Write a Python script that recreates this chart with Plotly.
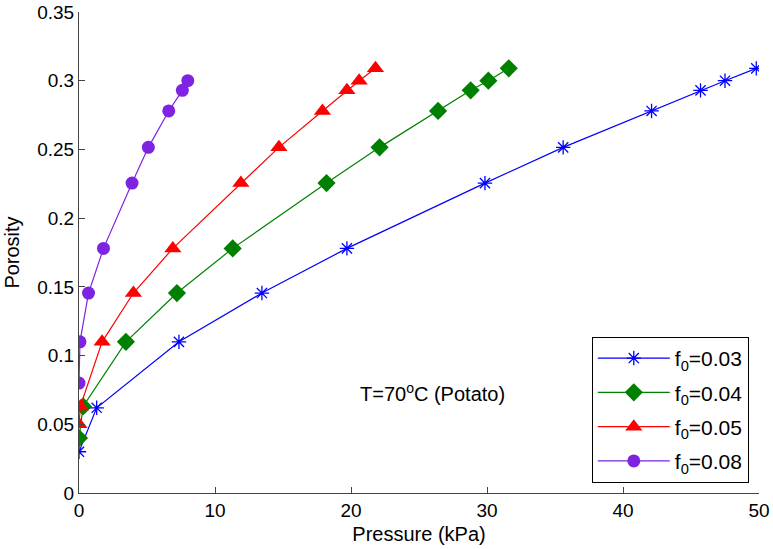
import plotly.graph_objects as go

# Porosity levels (y) and pressure values (x)
por_003 = [0.030, 0.062, 0.110, 0.1455, 0.178, 0.2255, 0.2515, 0.278, 0.293, 0.300, 0.309]
p_003 = [0.0, 1.3, 7.35, 13.45, 19.7, 29.85, 35.6, 42.1, 45.7, 47.5, 49.8]

por_004 = [0.040, 0.063, 0.110, 0.1455, 0.178, 0.2255, 0.2515, 0.278, 0.293, 0.300, 0.309]
p_004 = [0.0, 0.3, 3.45, 7.2, 11.3, 18.2, 22.1, 26.4, 28.8, 30.1, 31.6]

por_005 = [0.050, 0.063, 0.110, 0.1455, 0.178, 0.2255, 0.2515, 0.278, 0.293, 0.300, 0.309]
p_005 = [0.0, 0.1, 1.7, 4.0, 6.9, 11.9, 14.7, 17.9, 19.7, 20.6, 21.8]

por_008 = [0.080, 0.110, 0.1455, 0.178, 0.2255, 0.2515, 0.278, 0.293, 0.300]
p_008 = [0.0, 0.07, 0.7, 1.8, 3.9, 5.1, 6.6, 7.6, 8.0]

FONT = "Liberation Sans, Arial, sans-serif"

series = [
    ("f<sub>0</sub>=0.03", p_003, por_003, "rgb(0,0,255)", "asterisk-open", 12),
    ("f<sub>0</sub>=0.04", p_004, por_004, "rgb(0,128,0)", "diamond", 14),
    ("f<sub>0</sub>=0.05", p_005, por_005, "rgb(255,0,0)", "triangle-up", 15),
    ("f<sub>0</sub>=0.08", p_008, por_008, "rgb(125,35,225)", "circle", 13),
]

fig = go.Figure()
for i, (name, xs, ys, color, symbol, size) in enumerate(series):
    fig.add_trace(go.Scatter(
        x=xs, y=ys, mode="lines+markers", name=name, legendgroup=f"g{i}",
        line=dict(color=color, width=1.2),
        marker=dict(symbol=symbol, size=size, color=color,
                    line=dict(color=color, width=1.3 if symbol == "asterisk-open" else 0)),
    ))

fig.add_annotation(x=26.0, y=0.073, text="T=70<sup>o</sup>C (Potato)", showarrow=False,
                   font=dict(size=20, color="black", family=FONT))

axis_common = dict(showline=True, linecolor="#444", linewidth=1, ticks="inside",
                   ticklen=6, tickcolor="#444", showgrid=False, zeroline=False,
                   tickfont=dict(size=19, color="black", family=FONT), mirror=False,
                   automargin=False, ticklabeloverflow="allow")

fig.update_xaxes(range=[0, 50], dtick=10, title=dict(text="Pressure (kPa)", standoff=7,
                 font=dict(size=20, color="black", family=FONT)), **axis_common)
fig.update_yaxes(range=[0, 0.35], dtick=0.05, tickformat="~g",
                 title=dict(text="Porosity", standoff=12, font=dict(size=20, color="black", family=FONT)),
                 **axis_common)

fig.update_layout(
    width=773, height=549,
    margin=dict(l=79, r=14, t=12, b=56),
    plot_bgcolor="white", paper_bgcolor="white",
    font=dict(family=FONT, color="black"),
    legend=dict(x=0.985, y=0.021, xanchor="right", yanchor="bottom",
                bordercolor="black", borderwidth=1, bgcolor="white",
                font=dict(size=21, family=FONT), tracegroupgap=4, itemwidth=72),
)

# drop the default 8 px page margin so the figure fills the window
fig.write_html("out.html", config={"displayModeBar": False},
               post_script="document.body.style.margin='0';")
